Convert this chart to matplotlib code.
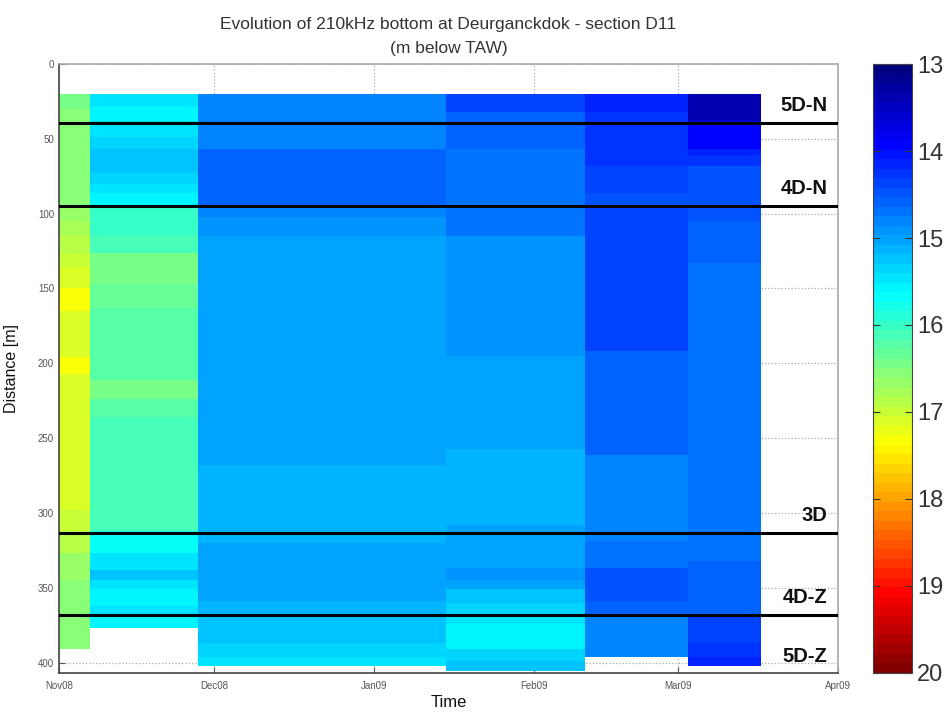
import numpy as np
import matplotlib
matplotlib.use("Agg")
import matplotlib.pyplot as plt
import matplotlib.dates as mdates
from matplotlib.colors import LinearSegmentedColormap
from datetime import datetime

plt.rcParams['font.family'] = ['Liberation Sans', 'DejaVu Sans']

# survey periods (column edges in time)
survey_edges = ["2008-11-01", "2008-11-07", "2008-11-28", "2009-01-15",
                "2009-02-11", "2009-03-03", "2009-03-17"]

# per survey: distance band edges [m] and bottom depth [m below TAW]
s1_dist = [20, 30, 38, 86, 95, 105, 114, 127, 136, 150, 165, 176, 196, 207, 271, 298, 312, 327, 345, 391]
s1_depth = [16.45, 16.55, 16.5, 16.6, 16.7, 16.8, 16.9, 17.0, 17.1, 17.3, 17.15, 17.1, 17.3, 17.15,
            17.05, 17.0, 16.85, 16.7, 16.5]

s2_dist = [20, 28, 38, 49, 57, 73, 80, 86, 95, 114, 126, 147, 163, 211, 224, 236, 312, 327, 338,
           345, 351, 362, 369, 377]
s2_depth = [15.49, 15.6, 15.5, 15.36, 15.19, 15.3, 15.45, 15.6, 15.98, 16.15, 16.45, 16.33, 16.2,
            16.45, 16.25, 16.08, 15.65, 15.5, 15.27, 15.5, 15.62, 15.5, 15.55]

s3_dist = [20, 38, 45, 57, 95, 102, 115, 268, 313, 320, 359, 369, 387, 396, 402]
s3_depth = [14.84, 14.76, 14.82, 14.61, 14.75, 14.86, 15.05, 15.13, 15.1, 15.05, 15.13, 15.24,
            15.33, 15.45]

s4_dist = [20, 32, 57, 115, 195, 257, 308, 337, 345, 351, 360, 369, 374, 391, 399, 406]
s4_depth = [14.4, 14.58, 14.72, 14.93, 15.07, 15.15, 15.05, 14.89, 15.05, 15.19, 15.36, 15.45,
            15.56, 15.36, 15.2]

s5_dist = [20, 32, 40, 68, 86, 95, 126, 192, 236, 261, 297, 319, 337, 359, 369, 396]
s5_depth = [14.14, 14.22, 14.26, 14.35, 14.45, 14.33, 14.42, 14.58, 14.61, 14.75, 14.84, 14.66,
            14.49, 14.6, 14.78]

s6_dist = [20, 38, 49, 57, 61, 68, 105, 133, 332, 369, 387, 396, 402]
s6_depth = [13.35, 13.95, 13.9, 14.15, 14.26, 14.45, 14.58, 14.7, 14.58, 14.36, 14.22, 14.14]

# zone boundaries and labels
zone_lines = [39.5, 95, 313.5, 368.5]
zone_names = ["5D-N", "4D-N", "3D", "4D-Z", "5D-Z"]
zone_label_y = [28, 83, 301.5, 356.5, 396]

month_ticks = ["2008-11-01", "2008-12-01", "2009-01-01", "2009-02-01", "2009-03-01", "2009-04-01"]

dists = [s1_dist, s2_dist, s3_dist, s4_dist, s5_dist, s6_dist]
depths = [s1_depth, s2_depth, s3_depth, s4_depth, s5_depth, s6_depth]

tx = mdates.date2num([datetime.strptime(d, "%Y-%m-%d") for d in survey_edges])
mt = mdates.date2num([datetime.strptime(d, "%Y-%m-%d") for d in month_ticks])

# matlab style jet, 64 levels
cmap = LinearSegmentedColormap.from_list(
    'mjet', [(0.0, (0, 0, 0.5)), (0.125, (0, 0, 1)), (0.375, (0, 1, 1)),
             (0.625, (1, 1, 0)), (0.875, (1, 0, 0)), (1.0, (0.5, 0, 0))], N=64)

fig = plt.figure(figsize=(9.47, 7.12), dpi=100)
ax = fig.add_axes([0.0623, 0.0548, 0.8226, 0.8553])
cax = fig.add_axes([0.9219, 0.0548, 0.0412, 0.8553])

mesh = None
for i in range(len(dists)):
    z = np.array(depths[i]).reshape(-1, 1)
    mesh = ax.pcolormesh([tx[i], tx[i + 1]], dists[i], z, cmap=cmap, vmin=13, vmax=20,
                         shading='flat', edgecolors='none', zorder=1)

for yl in zone_lines:
    ax.axhline(yl, color='black', lw=2.2, zorder=3)
for name, yy in zip(zone_names, zone_label_y):
    ax.text(mt[-1] - 2, yy, name, ha='right', va='center', fontsize=14.5,
            fontweight='bold', color='#111111', zorder=4)

ax.set_xlim(mt[0], mt[-1])
ax.set_ylim(407, 0)
ax.set_xticks(mt)
ax.set_xticklabels([datetime.strptime(d, "%Y-%m-%d").strftime("%b%y") for d in month_ticks])
ax.set_yticks(np.arange(0, 401, 50))
ax.tick_params(axis='both', direction='in', labelsize=7, colors='#555555', length=4)
ax.tick_params(axis='x', pad=6)
ax.set_axisbelow(True)
ax.grid(True, linestyle=':', color='#aaaaaa', lw=0.9, zorder=0)
for sp in ax.spines.values():
    sp.set_color('#444444')
    sp.set_linewidth(1.2)
ax.spines['top'].set_color('#aaaaaa')
ax.spines['right'].set_color('#aaaaaa')

ax.set_xlabel("Time", fontsize=12, color='#111111', labelpad=3)
ax.set_ylabel("Distance [m]", fontsize=11.5, color='#111111', labelpad=14)
ax.set_title("Evolution of 210kHz bottom at Deurganckdok - section D11\n(m below TAW)",
             fontsize=12.5, color='#333333', pad=8, linespacing=1.75)

cb = fig.colorbar(mesh, cax=cax)
cb.set_ticks(np.arange(13, 21, 1))
cax.invert_yaxis()
cax.tick_params(direction='in', labelsize=17, length=5, right=True, left=True, colors='#333333')
cb.outline.set_edgecolor('#444444')

fig.savefig("out.png", dpi=100)
